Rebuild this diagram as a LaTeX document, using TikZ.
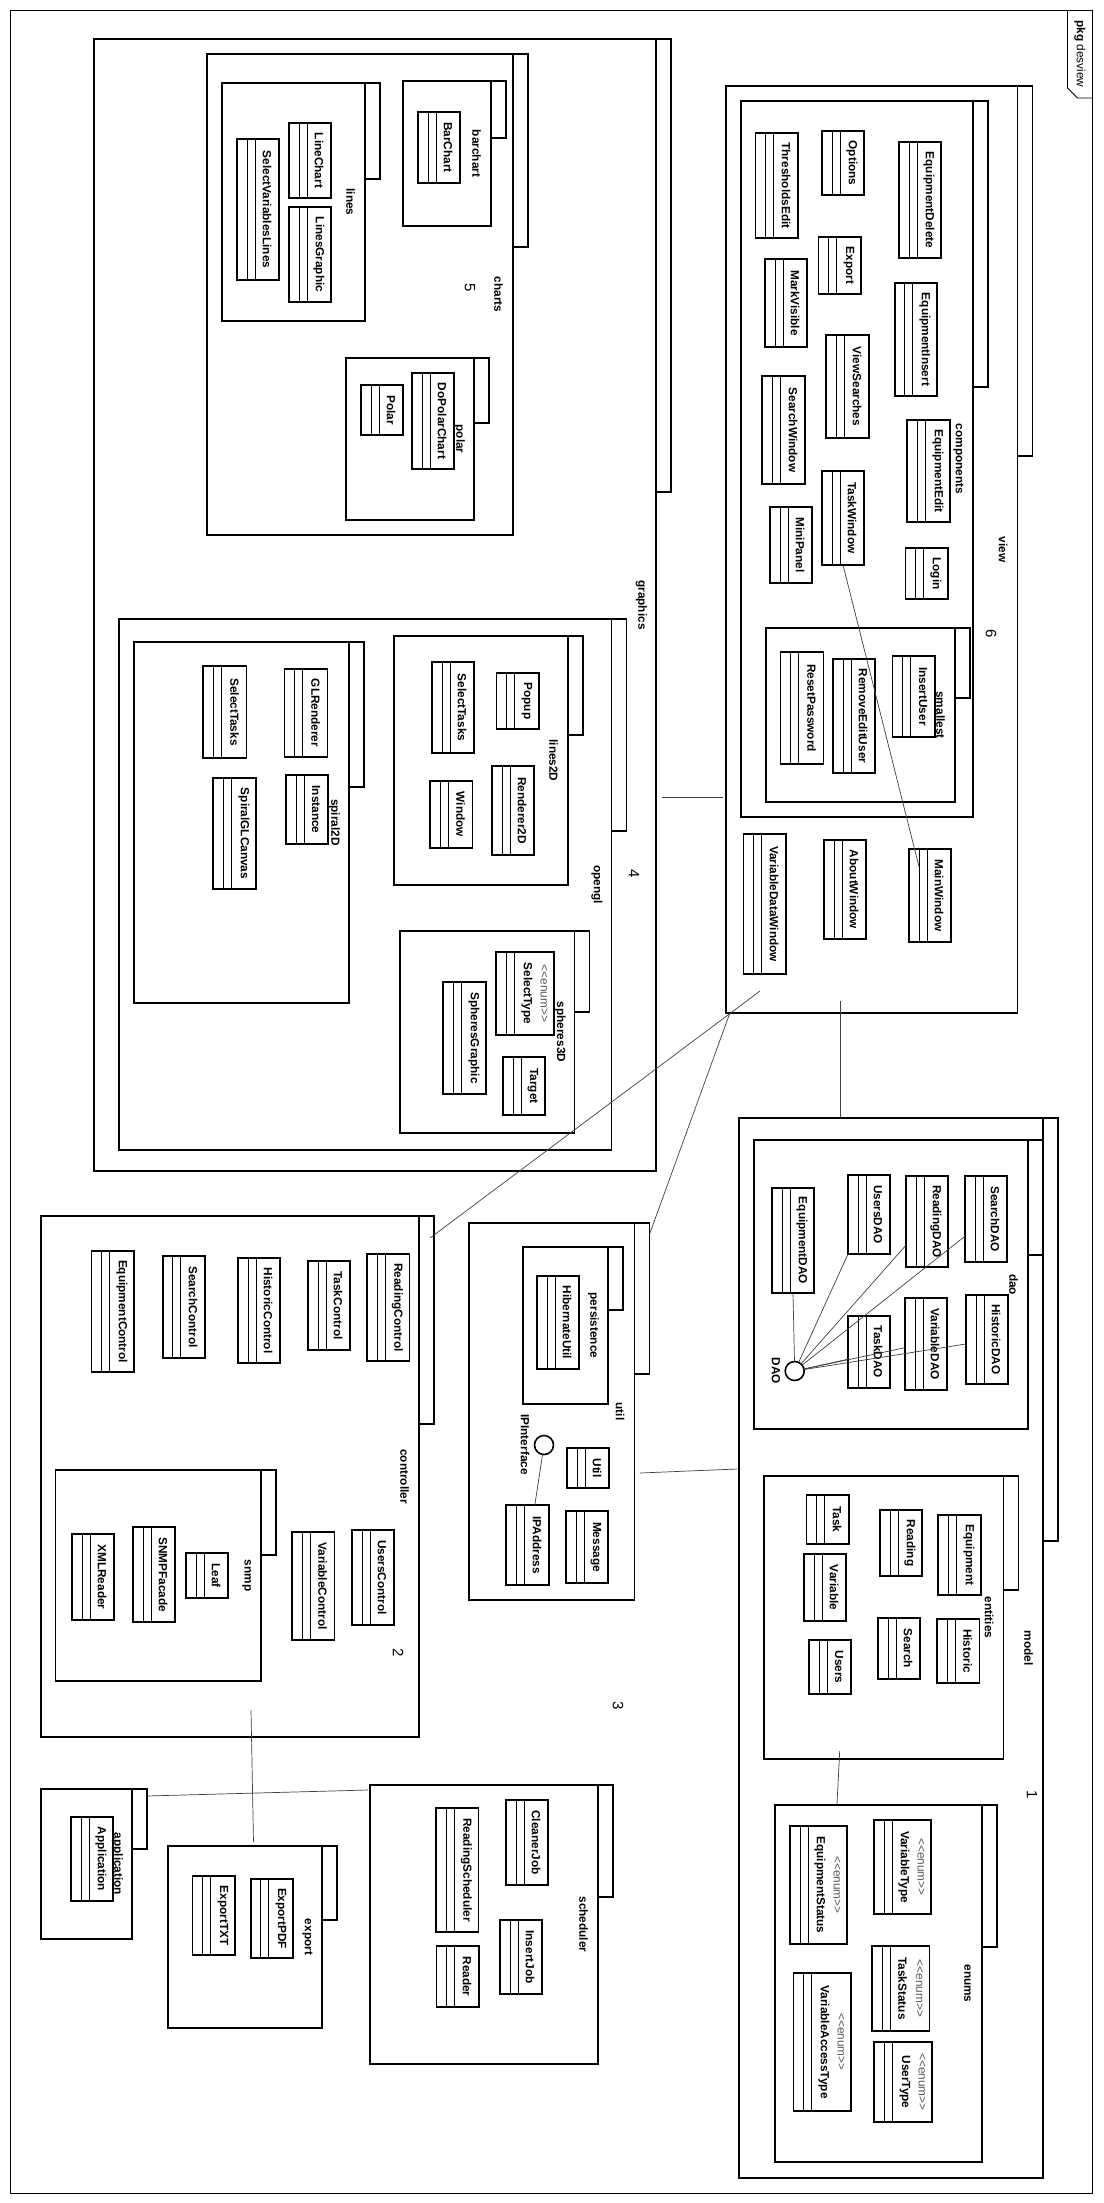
\documentclass[tikz,border=0pt]{standalone}
\usepackage{fontspec}
\setmainfont{Liberation Sans}
\usetikzlibrary{fit,calc}
\newcommand\pkg[7]{%
  \draw[tabbox] (#4,#3) rectangle (#4+15,#6);
  \node[pkgbox, fit={(#2,#3) (#4,#5)}] (#1) {};
  \node[ptext] at ($(#1.east)+(-14.5,0)$) {#7};
}
\newcommand\cls[6]{%
  \node[clsbox, fit={(#2,#3) (#4,#5)}] (#1) {};
  \draw[comp] ($(#1.north west)+(10,0)$) -- ($(#1.south west)+(10,0)$);
  \draw[comp] ($(#1.north west)+(18,0)$) -- ($(#1.south west)+(18,0)$);
  \node[ctext] at ($(#1.east)+(-12,0)$) {#6};
}
\newcommand\ecls[6]{%
  \node[clsbox, fit={(#2,#3) (#4,#5)}] (#1) {};
  \draw[comp] ($(#1.north west)+(10,0)$) -- ($(#1.south west)+(10,0)$);
  \draw[comp] ($(#1.north west)+(18,0)$) -- ($(#1.south west)+(18,0)$);
  \node[etext] at ($(#1.east)+(-10,0)$) {<\kern0pt<enum>\kern0pt>};
  \node[ctext] at ($(#1.east)+(-27,0)$) {#6};
}
\begin{document}
\begin{tikzpicture}[x=1pt,y=-1pt,
  pkgbox/.style={draw,line width=1.6pt,inner sep=0pt,outer sep=0pt},
  tabbox/.style={draw,line width=1.6pt},
  clsbox/.style={draw,line width=1.6pt,inner sep=0pt,outer sep=0pt},
  comp/.style={line width=0.7pt},
  ctext/.style={rotate=-90,inner sep=0pt,font=\fontsize{11.8}{13}\selectfont\bfseries},
  etext/.style={rotate=-90,inner sep=0pt,text=black!65,font=\fontsize{11.8}{13}\selectfont},
  ptext/.style={rotate=-90,inner sep=0pt,font=\fontsize{11.8}{13}\selectfont\bfseries},
  num/.style={rotate=-90,inner sep=0pt,font=\fontsize{15}{17}\selectfont},
  conn/.style={line width=0.7pt,draw=black!75},
  iface/.style={circle,draw,line width=1.6pt,minimum size=19pt,inner sep=0pt,outer sep=0pt},
]
\useasboundingbox (0,0) rectangle (1103,2203);
\fill[white] (0,0) rectangle (1103,2203);

% frame
\draw[line width=0.9pt] (10,10) rectangle (1092,2193);
\draw[line width=0.9pt] (1067.5,10) -- (1067.5,88) -- (1077.5,98) -- (1092,98);
\node[rotate=-90,inner sep=0pt,font=\fontsize{11.8}{13}\selectfont] (title) at (1080,54) {\textbf{pkg} desview};

% packages
\pkg{pgraphics}{94}{39}{656}{1171}{492}{graphics}
\pkg{pcharts}{207}{54}{513}{535}{247}{charts}
\pkg{plines}{222}{83}{365}{321}{179}{lines}
\pkg{pbarchart}{403}{81}{491}{226}{138}{barchart}
\pkg{ppolar}{346}{358}{474}{520}{423}{polar}
\pkg{popengl}{119}{619}{611.5}{1150}{831}{opengl}
\pkg{plinesTwoD}{394}{636}{568}{885}{735}{lines2D}
\pkg{pspiral}{134}{642}{349}{1003}{787}{spiral2D}
\pkg{pspheres}{400}{931}{574.6}{1133}{1012}{spheres3D}
\pkg{pview}{726}{86}{1017.5}{1013}{456}{view}
\pkg{pcomponents}{741}{101}{973}{817}{387}{components}
\pkg{psmallest}{766}{628}{955}{802}{698}{smallest}
\pkg{pcontroller}{41}{1216}{419}{1737}{1424}{controller}
\pkg{psnmp}{55.6}{1470}{261}{1681}{1555}{snmp}
\pkg{putil}{469}{1223}{634.5}{1600}{1374}{util}
\pkg{ppersistence}{522.8}{1247}{608}{1404}{1310}{persistence}
\pkg{pmodel}{738.7}{1118}{1043}{2178}{1541}{model}
\pkg{pdao}{754}{1140}{1028}{1429}{1255}{dao}
\pkg{pentities}{763.7}{1476}{1003.5}{1759}{1590}{entities}
\pkg{penums}{775}{1805}{982}{2162}{1947}{enums}
\pkg{pscheduler}{369.7}{1785}{598}{2064}{1897}{scheduler}
\pkg{pexport}{168}{1846}{322}{2028}{1920}{export}
\pkg{papplication}{41}{1789}{132}{1939}{1849}{application}

% numbers
\node[num] (n5) at (470,288) {5};
\node[num] (n4) at (634,874) {4};
\node[num] (n6) at (991,634) {6};
\node[num] (n2) at (398,1653) {2};
\node[num] (n3) at (618,1706) {3};
\node[num] (n1) at (1032,1795) {1};

% classes: lines / barchart / polar
\cls{LineChart}{289}{123}{331}{198}{LineChart}
\cls{LinesGraphic}{289}{207}{331}{302}{LinesGraphic}
\cls{SelectVariablesLines}{237}{139}{279}{280}{SelectVariablesLines}
\cls{BarChart}{418}{112}{460}{183}{BarChart}
\cls{DoPolarChart}{412}{373}{454}{469}{DoPolarChart}
\cls{Polar}{361}{385}{403}{435}{Polar}
% lines2D
\cls{Popup}{496.5}{673}{539}{729}{Popup}
\cls{SelectTasksA}{432}{662}{474}{753}{SelectTasks}
\cls{Renderer2D}{492}{766}{534}{855}{Renderer2D}
\cls{Window}{430}{781}{472.5}{848}{Window}
% spiral2D
\cls{GLRenderer}{284.5}{669}{327.5}{757}{GLRenderer}
\cls{SelectTasksB}{203}{666}{246.5}{758}{SelectTasks}
\cls{Instance}{286}{775}{328}{844}{Instance}
\cls{SpiralGLCanvas}{213}{778}{256}{889}{SpiralGLCanvas}
% spheres3D
\ecls{SelectType}{496}{952}{554}{1035}{SelectType}
\cls{SpheresGraphic}{443}{982}{486}{1094}{SpheresGraphic}
\cls{Target}{503}{1057}{545}{1115}{Target}
% components
\cls{ThresholdsEdit}{755.5}{133}{798}{238}{ThresholdsEdit}
\cls{Options}{822}{131}{864}{195}{Options}
\cls{EquipmentDelete}{899}{142}{941}{258}{EquipmentDelete}
\cls{MarkVisible}{765}{259}{807}{347}{MarkVisible}
\cls{ExportCls}{818.6}{237}{861}{294}{Export}
\cls{EquipmentInsert}{894.7}{283}{937}{396}{EquipmentInsert}
\cls{ViewSearches}{826}{335}{869}{438}{ViewSearches}
\cls{SearchWindow}{762}{376}{805}{484}{SearchWindow}
\cls{EquipmentEdit}{907}{420}{950}{522}{EquipmentEdit}
\cls{TaskWindow}{822}{471}{864}{565}{TaskWindow}
\cls{MiniPanel}{770}{507}{812}{583}{MiniPanel}
\cls{Login}{905.6}{548}{948}{599}{Login}
% smallest
\cls{InsertUser}{892.5}{656}{935}{737}{InsertUser}
\cls{RemoveEditUser}{833}{659}{875}{773}{RemoveEditUser}
\cls{ResetPassword}{780.6}{652}{823.5}{764}{ResetPassword}
% view
\cls{MainWindow}{909}{849}{951}{942}{MainWindow}
\cls{AboutWindow}{824}{840}{866}{939}{AboutWindow}
\cls{VariableDataWindow}{743.6}{834}{786}{974}{VariableDataWindow}
% controller
\cls{ReadingControl}{367}{1254}{409.5}{1361}{ReadingControl}
\cls{TaskControl}{308}{1261}{350}{1350}{TaskControl}
\cls{HistoricControl}{238}{1258}{280}{1363}{HistoricControl}
\cls{SearchControl}{162.7}{1256}{205}{1358}{SearchControl}
\cls{EquipmentControl}{91.5}{1251}{134}{1372}{EquipmentControl}
\cls{UsersControl}{352}{1530}{394}{1625}{UsersControl}
\cls{VariableControl}{292}{1532}{334.5}{1640}{VariableControl}
% snmp
\cls{Leaf}{186}{1553}{228}{1598}{Leaf}
\cls{SNMPFacade}{133}{1527}{175}{1622}{SNMPFacade}
\cls{XMLReader}{72}{1534}{114}{1620}{XMLReader}
% util
\cls{IPAddress}{506}{1505}{549}{1585}{IPAddress}
\cls{Util}{567}{1448}{609}{1488}{Util}
\cls{Message}{566}{1511}{608}{1583}{Message}
\cls{HibernateUtil}{537}{1276}{579}{1369}{HibernateUtil}
% dao
\cls{SearchDAO}{965}{1176}{1007}{1262}{SearchDAO}
\cls{ReadingDAO}{906}{1176}{948}{1267}{ReadingDAO}
\cls{UsersDAO}{848}{1175}{890}{1254}{UsersDAO}
\cls{EquipmentDAO}{772}{1188}{814}{1293}{EquipmentDAO}
\cls{HistoricDAO}{966}{1295}{1008}{1384}{HistoricDAO}
\cls{VariableDAO}{905}{1298}{947}{1390}{VariableDAO}
\cls{TaskDAO}{848}{1316}{890}{1388}{TaskDAO}
% entities
\cls{Equipment}{938}{1515}{981}{1595}{Equipment}
\cls{Reading}{880}{1510}{922}{1576}{Reading}
\cls{Task}{806.6}{1495}{849}{1544}{Task}
\cls{Variable}{804}{1554}{846}{1621}{Variable}
\cls{Historic}{937}{1619}{979.5}{1683}{Historic}
\cls{Search}{878}{1618}{920}{1679}{Search}
\cls{Users}{809}{1640}{851}{1694}{Users}
% enums
\ecls{VariableType}{874}{1820}{931}{1914}{VariableType}
\ecls{EquipmentStatus}{790}{1826}{847}{1944}{EquipmentStatus}
\ecls{TaskStatus}{872}{1946}{929.5}{2031}{TaskStatus}
\ecls{VariableAccessType}{793.6}{1973}{851}{2111}{VariableAccessType}
\ecls{UserType}{874}{2042}{932}{2122}{UserType}
% scheduler
\cls{CleanerJob}{506}{1800}{548}{1885}{CleanerJob}
\cls{ReadingScheduler}{436}{1808}{478.5}{1932}{ReadingScheduler}
\cls{InsertJob}{500}{1920}{542}{1994}{InsertJob}
\cls{Reader}{436.6}{1946}{479}{2007}{Reader}
% export
\cls{ExportPDF}{250.7}{1879}{293}{1958}{ExportPDF}
\cls{ExportTXT}{192.6}{1876}{235}{1955}{ExportTXT}
% application
\cls{Application}{71}{1817}{113}{1901}{Application}

% interfaces
\node[iface] (DAOi) at (794.7,1371) {};
\node[ptext] (DAOl) at (776,1371) {DAO};
\node[iface] (IPI) at (544,1445) {};
\node[ptext] (IPIl) at (525,1444.5) {IPInterface};

% DAO links
\draw[conn] (DAOi) -- (EquipmentDAO.south);
\draw[conn] (DAOi) -- (UsersDAO.south west);
\draw[conn] (DAOi) -- ($(ReadingDAO.north west)!0.76!(ReadingDAO.south west)$);
\draw[conn] (DAOi) -- ($(SearchDAO.north west)!0.70!(SearchDAO.south west)$);
\draw[conn] (DAOi) -- ($(TaskDAO.north west)!0.6!(TaskDAO.south west)$);
\draw[conn] (DAOi) -- ($(VariableDAO.north west)!0.54!(VariableDAO.south west)$);
\draw[conn] (DAOi) -- ($(HistoricDAO.north west)!0.55!(HistoricDAO.south west)$);
\draw[conn] (IPI) -- ($(IPAddress.north west)!0.67!(IPAddress.north east)$);
\draw[conn] (TaskWindow.south) -- ($(MainWindow.north west)!0.19!(MainWindow.south west)+(10,0)$);

% package links
\coordinate (gv1) at (662,797);
\coordinate (gv2) at (722.5,797);
\draw[conn] (gv1) -- (gv2);
\coordinate (vc1) at (760,991);
\coordinate (vc2) at (430,1238);
\draw[conn] (vc1) -- (vc2);
\coordinate (vu1) at (729.5,1014);
\coordinate (vu2) at (649.6,1234);
\draw[conn] (vu1) -- (vu2);
\coordinate (vm1) at (840,1001);
\draw[conn] (vm1) -- (pmodel.north -| vm1);
\coordinate (um1) at (640,1473);
\draw[conn] (um1) -- (737,1469);
\coordinate (ee1) at (839.7,1751);
\draw[conn] (ee1) -- (837,1804);
\coordinate (ce1) at (251,1710);
\draw[conn] (ce1) -- (253.5,1842);
\coordinate (as1) at (146,1796);
\draw[conn] (as1) -- (368,1790);
\end{tikzpicture}
\end{document}
